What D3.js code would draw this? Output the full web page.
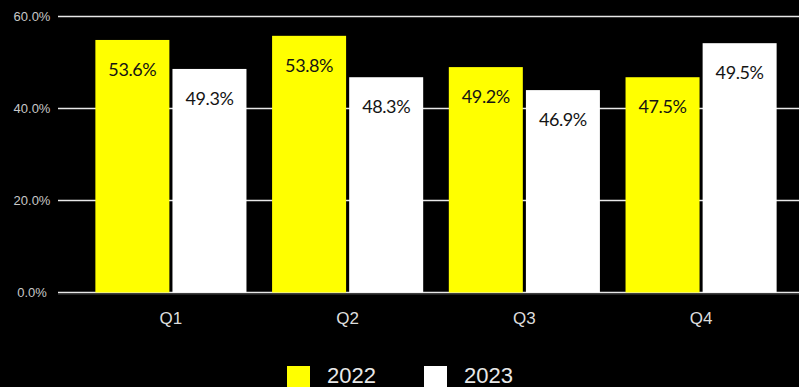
<!DOCTYPE html>
<html>
<head>
<meta charset="utf-8">
<script src="https://cdn.jsdelivr.net/npm/d3@7"></script>
<style>
  body { margin: 0; background: #000; }
  svg { display: block; background: #000; }
</style>
</head>
<body>
<svg width="799" height="387"></svg>
<script>
const quarters = ["Q1", "Q2", "Q3", "Q4"];
const seriesNames = ["2022", "2023"];
const values2022 = [54.9, 55.8, 49.0, 46.8];
const values2023 = [48.6, 46.8, 44.0, 54.2];
const labels2022 = ["53.6%", "53.8%", "49.2%", "47.5%"];
const labels2023 = ["49.3%", "48.3%", "46.9%", "49.5%"];
const yTicks = [0, 20, 40, 60];
const colors = ["#ffff00", "#ffffff"];

const svg = d3.select("svg");

const y = d3.scaleLinear().domain([0, 60]).range([292.5, 16.5]);
const x = d3.scaleBand().domain(quarters).range([83, 789]).paddingInner(0.145).paddingOuter(0.07);
const xs = d3.scaleBand().domain(seriesNames).range([0, x.bandwidth()]).paddingInner(0.04);

// grid
const grid = svg.append("g");
grid.selectAll("line")
  .data(yTicks)
  .enter()
  .append("line")
  .attr("x1", 58)
  .attr("x2", 799)
  .attr("y1", d => y(d))
  .attr("y2", d => y(d))
  .attr("stroke", "#e8e8e8")
  .attr("stroke-width", 1.6);

grid.selectAll("text")
  .data(yTicks)
  .enter()
  .append("text")
  .attr("x", 32)
  .attr("y", d => y(d) + 4.5)
  .attr("text-anchor", "middle")
  .attr("fill", "#c8c8c8")
  .attr("font-family", "Liberation Sans, Arial, sans-serif")
  .attr("font-size", 13)
  .text(d => d.toFixed(1) + "%");

// x axis
const xAxis = svg.append("g")
  .attr("transform", "translate(0, 293.5)")
  .attr("font-family", "Liberation Sans, Arial, sans-serif")
  .attr("font-size", 17)
  .call(d3.axisBottom(x).tickSize(0).tickPadding(18));
xAxis.attr("font-size", 17).attr("font-family", "Liberation Sans, Arial, sans-serif");
xAxis.select(".domain").attr("stroke", "#444").attr("d", "M58,0.5H799");
xAxis.selectAll("text").attr("fill", "#dddddd");

// bars
const rows = quarters.map((q, i) => ({
  q: q,
  items: [
    { s: "2022", v: values2022[i], label: labels2022[i], c: colors[0] },
    { s: "2023", v: values2023[i], label: labels2023[i], c: colors[1] }
  ]
}));

const groups = svg.selectAll(".grp")
  .data(rows)
  .enter()
  .append("g")
  .attr("class", "grp")
  .attr("transform", d => `translate(${x(d.q)}, 0)`);

const cells = groups.selectAll("g")
  .data(d => d.items)
  .enter()
  .append("g");

cells.append("rect")
  .attr("x", d => xs(d.s))
  .attr("y", d => y(d.v))
  .attr("width", xs.bandwidth())
  .attr("height", d => y(0) - y(d.v))
  .attr("fill", d => d.c);

cells.append("text")
  .attr("x", d => xs(d.s) + xs.bandwidth() / 2)
  .attr("y", d => y(d.v) + 36)
  .attr("text-anchor", "middle")
  .attr("fill", "#141414")
  .attr("font-family", "Lato, sans-serif")
  .attr("font-size", 18)
  .attr("letter-spacing", "-0.4")
  .text(d => d.label);

// legend
const legend = svg.append("g");
const legX = [287, 424];
seriesNames.forEach((s, i) => {
  legend.append("rect")
    .attr("x", legX[i])
    .attr("y", 366)
    .attr("width", 23)
    .attr("height", 23)
    .attr("fill", colors[i]);
  legend.append("text")
    .attr("x", legX[i] + 40)
    .attr("y", 383)
    .attr("fill", "#e8e8e8")
    .attr("font-family", "Liberation Sans, Arial, sans-serif")
    .attr("font-size", 22)
    .text(s);
});
</script>
</body>
</html>
